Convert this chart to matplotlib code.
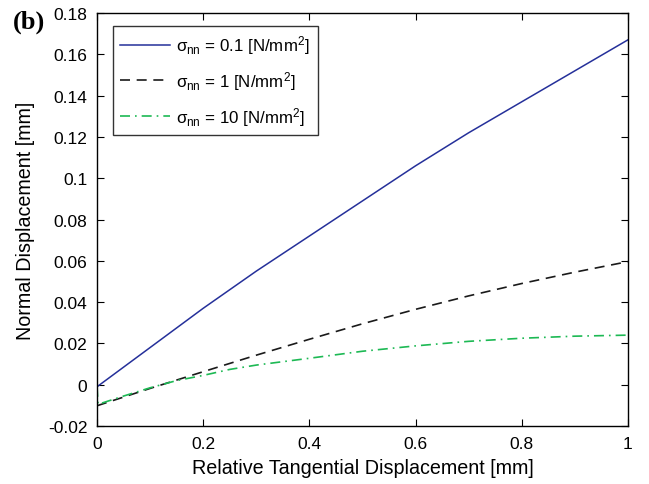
import numpy as np
import matplotlib.pyplot as plt

plt.rcParams['font.family'] = ['Liberation Sans', 'DejaVu Sans']
plt.rcParams['mathtext.fontset'] = 'custom'
plt.rcParams['mathtext.rm'] = 'Liberation Sans'
plt.rcParams['mathtext.it'] = 'Liberation Sans'

# relative tangential displacement [mm]
x = [0.0, 0.1, 0.2, 0.3, 0.4, 0.5, 0.6, 0.7, 0.8, 0.9, 1.0]

# normal displacement [mm] for each normal stress
u_01 = [-0.001, 0.018, 0.037, 0.055, 0.072, 0.089, 0.106, 0.122, 0.137, 0.152, 0.167]
u_1 = [-0.0102, -0.0018, 0.0063, 0.0143, 0.022, 0.0295, 0.0365, 0.043, 0.049, 0.0545, 0.0596]

x_10 = [0.0, 0.002, 0.05, 0.1, 0.15, 0.2, 0.25, 0.3, 0.4, 0.5, 0.6, 0.7, 0.8, 0.9, 1.0]
u_10 = [-0.001, -0.0095, -0.0055, -0.0015, 0.002, 0.0045, 0.0074, 0.0095, 0.0128,
        0.0162, 0.0188, 0.021, 0.0225, 0.0235, 0.024]

labels = [r'$\sigma_{\rm nn}$ = 0.1 [N/mm$^2$]',
          r'$\sigma_{\rm nn}$ = 1 [N/mm$^2$]',
          r'$\sigma_{\rm nn}$ = 10 [N/mm$^2$]']

fig = plt.figure(figsize=(6.49, 4.85), dpi=100)
ax = fig.add_axes([0.1495, 0.1196, 0.818, 0.8515])

ax.plot(x, u_01, color='#25309a', lw=1.1, label=labels[0])
ax.plot(x, u_1, color='#1a1a1a', lw=1.2, dashes=(6, 4), label=labels[1])
ax.plot(x_10, u_10, color='#1db954', lw=1.2, dashes=(6, 3, 1, 3), label=labels[2])

ax.set_xlim(0, 1)
ax.set_ylim(-0.02, 0.18)
ax.set_xticks(np.arange(0, 1.01, 0.2))
ax.set_yticks(np.arange(-0.02, 0.181, 0.02))
ax.set_xticklabels(['0', '0.2', '0.4', '0.6', '0.8', '1'])
ax.set_yticklabels(['-0.02', '0', '0.02', '0.04', '0.06', '0.08', '0.1',
                    '0.12', '0.14', '0.16', '0.18'])
ax.tick_params(direction='in', top=True, right=True, length=5, width=0.8,
               labelsize=12.5, pad=7)
for s in ax.spines.values():
    s.set_linewidth(1.0)

ax.set_xlabel('Relative Tangential Displacement [mm]', fontsize=14.2, labelpad=5)
ax.set_ylabel('Normal Displacement [mm]', fontsize=14.2, labelpad=9)

leg = ax.legend(loc='upper left', fontsize=12.2, frameon=True, fancybox=False,
                edgecolor='black', handlelength=2.9, borderpad=0.45,
                labelspacing=0.75, handletextpad=0.4, borderaxespad=0,
                bbox_to_anchor=(0.0296, 0.969))
leg.get_frame().set_linewidth(1.0)

fig.text(0.02, 0.942, '(b)', fontsize=19, fontweight='bold',
         family='Liberation Serif')

fig.savefig('out.png', dpi=100)
